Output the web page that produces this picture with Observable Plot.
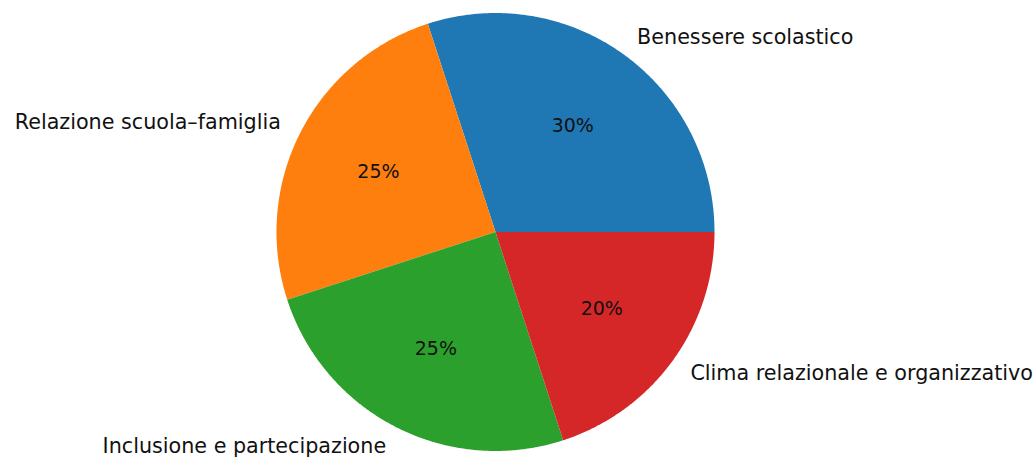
<!DOCTYPE html>
<html>
<head>
<meta charset="utf-8">
<script src="https://cdn.jsdelivr.net/npm/d3@7"></script>
<script src="https://cdn.jsdelivr.net/npm/@observablehq/plot@0.6"></script>
<style>
  html, body { margin: 0; padding: 0; background: #fff; }
</style>
</head>
<body>
<div id="chart"></div>
<script>
const categories = ["Benessere scolastico", "Relazione scuola–famiglia", "Inclusione e partecipazione", "Clima relazionale e organizzativo"];
const values = [30, 25, 25, 20];
const colors = ["#1f77b4", "#ff7f0e", "#2ca02c", "#d62728"];
const pctLabels = ["30%", "25%", "25%", "20%"];

const total = d3.sum(values);
// wedge geometry derived from values (start at 3 o'clock, counterclockwise)
const slices = [];
let acc = 0;
categories.forEach((c, i) => {
  const a0 = acc / total * 2 * Math.PI;
  acc += values[i];
  const a1 = acc / total * 2 * Math.PI;
  slices.push({cat: c, a0, a1, mid: (a0 + a1) / 2, color: colors[i], pct: pctLabels[i]});
});
const wedgePts = [];
slices.forEach(s => {
  wedgePts.push({cat: s.cat, x: 0, y: 0});
  const n = Math.max(2, Math.ceil((s.a1 - s.a0) / (Math.PI / 360)));
  for (let k = 0; k <= n; k++) {
    const a = s.a0 + (s.a1 - s.a0) * k / n;
    wedgePts.push({cat: s.cat, x: Math.cos(a), y: Math.sin(a)});
  }
});
const labels = slices.map(s => ({
  cat: s.cat, pct: s.pct,
  lx: 1.1 * Math.cos(s.mid), ly: 1.1 * Math.sin(s.mid),
  px: 0.6 * Math.cos(s.mid), py: 0.6 * Math.sin(s.mid)
}));

const R = 219, cx = 495, cy = 231.5, W = 1036, H = 460;
const chart = Plot.plot({
  width: W, height: H,
  margin: 0,
  x: {domain: [-cx / R, (W - cx) / R], range: [0, W], axis: null},
  y: {domain: [-(H - cy) / R, cy / R], range: [H, 0], axis: null},
  color: {domain: categories, range: colors},
  style: {fontFamily: "DejaVu Sans", fontSize: "20px", background: "#fff"},
  marks: [
    Plot.line(wedgePts, {x: "x", y: "y", z: "cat", fill: "cat", stroke: null, curve: "linear-closed"}),
    Plot.text(labels.filter(d => d.lx >= 0), {x: "lx", y: "ly", text: "cat", textAnchor: "start", fill: "#111", fontSize: 20.7}),
    Plot.text(labels.filter(d => d.lx < 0), {x: "lx", y: "ly", text: "cat", textAnchor: "end", fill: "#111", fontSize: 20.7}),
    Plot.text(labels, {x: "px", y: "py", text: "pct", textAnchor: "middle", fill: "#111", fontSize: 19})
  ]
});
document.getElementById("chart").appendChild(chart);
</script>
</body>
</html>
